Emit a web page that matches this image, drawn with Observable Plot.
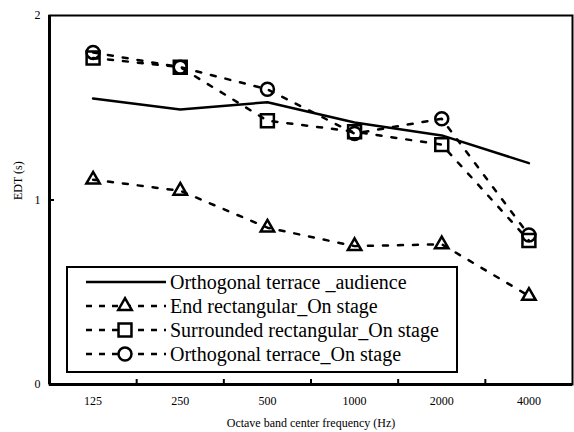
<!DOCTYPE html>
<html>
<head>
<meta charset="utf-8">
<script src="https://cdn.jsdelivr.net/npm/d3@7"></script>
<script src="https://cdn.jsdelivr.net/npm/@observablehq/plot@0.6"></script>
<style>
  html, body { margin: 0; padding: 0; background: white; }
  #chart { width: 574px; height: 432px; }
  #chart svg text { font-family: 'Liberation Serif', 'Times New Roman', serif; }
</style>
</head>
<body>
<div id="chart"></div>
<script>
const freqs = ["125", "250", "500", "1000", "2000", "4000"];
const audience = [1.55, 1.49, 1.53, 1.42, 1.35, 1.20];
const endRect = [1.11, 1.05, 0.85, 0.75, 0.76, 0.48];
const surRect = [1.77, 1.72, 1.43, 1.37, 1.30, 0.78];
const orthStage = [1.80, 1.72, 1.60, 1.36, 1.44, 0.81];
const seriesNames = [
  "Orthogonal terrace _audience",
  "End rectangular_On stage",
  "Surrounded rectangular_On stage",
  "Orthogonal terrace_On stage"
];
const yTicks = [0, 1, 2];

const rows = (vals) => vals.map((v, i) => ({ i, v }));
const idx = freqs.map((f, i) => i);
const bounds = idx.slice(1).map(i => i - 0.5);

const serif = "'Liberation Serif', 'Times New Roman', serif";
const dash = "5,10";
const lw = 2.5;
const plot = Plot.plot({
  width: 574,
  height: 432,
  marginLeft: 49,
  marginRight: 2,
  marginTop: 15,
  marginBottom: 48,
  style: { fontFamily: serif, background: "white", color: "black" },
  x: { domain: [-0.5, freqs.length - 0.5], axis: null },
  y: { domain: [0, 2], axis: null },
  marks: [
    Plot.frame({ stroke: "black", strokeWidth: 2 }),
    Plot.ruleX([-0.5], { stroke: "black", strokeWidth: 3 }),
    Plot.ruleY([0], { stroke: "black", strokeWidth: 3 }),
    Plot.axisX({ ticks: bounds, tickSize: -5, tickFormat: () => "", strokeWidth: 2, label: null }),
    Plot.axisX({ ticks: idx, tickSize: 0, tickPadding: 12, tickFormat: i => freqs[i], fontSize: 12,
      fontFamily: serif,
      label: "Octave band center frequency (Hz)", labelAnchor: "center", labelOffset: 42, labelArrow: "none" }),
    Plot.axisY({ ticks: [1], tickSize: -5, tickFormat: () => "", strokeWidth: 2, label: null }),
    Plot.axisY({ ticks: yTicks, tickSize: 0, tickPadding: 9, fontSize: 12, tickFormat: d => String(d),
      fontFamily: serif, label: null }),
    Plot.text(["EDT (s)"], { frameAnchor: "left", dx: -31, rotate: -90, fontSize: 12, fontFamily: serif }),
    Plot.line(rows(audience), { x: "i", y: "v", stroke: "black", strokeWidth: lw }),
    Plot.line(rows(endRect), { x: "i", y: "v", stroke: "black", strokeWidth: lw, strokeDasharray: dash }),
    Plot.line(rows(surRect), { x: "i", y: "v", stroke: "black", strokeWidth: lw, strokeDasharray: dash }),
    Plot.line(rows(orthStage), { x: "i", y: "v", stroke: "black", strokeWidth: lw, strokeDasharray: dash }),
    Plot.dot(rows(endRect), { x: "i", y: "v", symbol: "triangle", r: 5, stroke: "black", strokeWidth: 2.5, fill: "none" }),
    Plot.dot(rows(surRect), { x: "i", y: "v", symbol: "square", r: 7.3, stroke: "black", strokeWidth: 2.5, fill: "none" }),
    Plot.dot(rows(orthStage), { x: "i", y: "v", symbol: "circle", r: 6.5, stroke: "black", strokeWidth: 2.5, fill: "none" })
  ]
});
document.getElementById("chart").appendChild(plot);

// Legend drawn inside the plot area
const svg = d3.select(plot);
const lg = svg.append("g").attr("transform", "translate(67,267)");
lg.append("rect").attr("width", 390).attr("height", 105)
  .attr("fill", "white").attr("stroke", "black").attr("stroke-width", 2);
const symbols = [null, d3.symbolTriangle, d3.symbolSquare, d3.symbolCircle];
const sizes = [0, Math.PI * 25, Math.PI * 7.3 * 7.3, Math.PI * 6.5 * 6.5];
seriesNames.forEach((name, k) => {
  const y = 15 + k * 24;
  lg.append("line").attr("x1", 19).attr("x2", 99).attr("y1", y).attr("y2", y)
    .attr("stroke", "black").attr("stroke-width", lw)
    .attr("stroke-dasharray", k === 0 ? null : "6,7");
  if (symbols[k]) {
    lg.append("path").attr("d", d3.symbol(symbols[k], sizes[k])())
      .attr("transform", `translate(58,${y})`)
      .attr("fill", "white").attr("stroke", "black").attr("stroke-width", 2.5);
  }
  lg.append("text").attr("x", 103).attr("y", y).attr("dy", "0.35em")
    .attr("text-anchor", "start")
    .attr("font-size", 20).attr("font-family", serif).text(name);
});
</script>
</body>
</html>
